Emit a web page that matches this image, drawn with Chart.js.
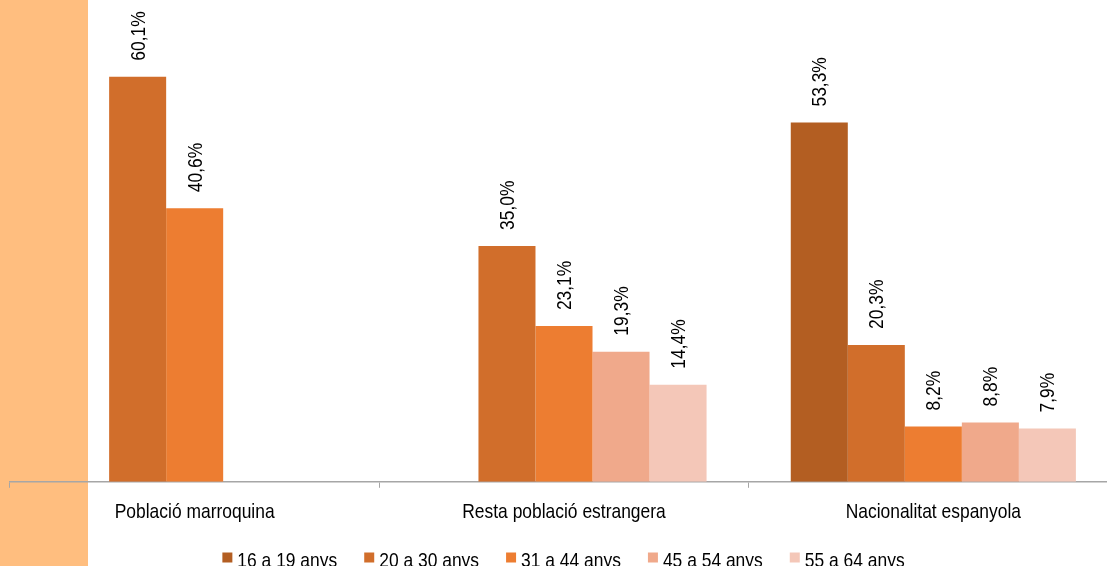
<!DOCTYPE html>
<html>
<head>
<meta charset="utf-8">
<script src="https://cdn.jsdelivr.net/npm/chart.js@4.4.1/dist/chart.umd.min.js"></script>
<style>
    html, body { margin: 0; padding: 0; overflow: hidden; background: #fff; }
    #wrap { position: relative; width: 1107px; height: 566px; overflow: hidden; }
    #band { position: absolute; left: 0; top: 0; width: 88px; height: 566px; background: #FFBE7F; }
    #holder { position: absolute; left: 0; top: 0; width: 1120px; height: 580px; }
</style>
</head>
<body>
<div id="wrap">
    <div id="band"></div>
    <div id="holder"><canvas id="chart"></canvas></div>
</div>
<script>
// Categorias y series
const categories = ['Població marroquina', 'Resta població estrangera', 'Nacionalitat espanyola'];
const seriesNames = ['16 a 19 anys', '20 a 30 anys', '31 a 44 anys', '45 a 54 anys', '55 a 64 anys'];
const age16to19 = [null, null, 53.3];
const age20to30 = [60.1, 35.0, 20.3];
const age31to44 = [40.6, 23.1, 8.2];
const age45to54 = [null, 19.3, 8.8];
const age55to64 = [null, 14.4, 7.9];
const seriesColors = ['#B35E22', '#D16E2B', '#ED7D31', '#F0A98B', '#F4C7B8'];

const FONT = "'Liberation Sans', Arial, sans-serif";
// No hay Arial Narrow: se estrecha el texto a mano
const NARROW = 0.83;

function narrowText(ctx, text, x, y, align) {
    ctx.save();
    ctx.translate(x, y);
    ctx.scale(NARROW, 1);
    ctx.textAlign = align;
    ctx.textBaseline = 'alphabetic';
    ctx.fillText(text, 0, 0);
    ctx.restore();
}

// Etiquetas rotadas encima de cada barra, nombres de categoria y leyenda
const textLayer = {
    id: 'textLayer',
    afterDraw(chart) {
        const ctx = chart.ctx;
        ctx.save();
        ctx.font = `21px ${FONT}`;
        ctx.fillStyle = '#000';

        chart.data.datasets.forEach((ds, i) => {
            const meta = chart.getDatasetMeta(i);
            meta.data.forEach((bar, j) => {
                const v = ds.data[j];
                if (v === null || v === undefined) return;
                ctx.save();
                ctx.translate(bar.x, bar.y - 16);
                ctx.rotate(-Math.PI / 2);
                narrowText(ctx, v.toFixed(1).replace('.', ',') + '%', 0, 7, 'left');
                ctx.restore();
            });
        });

        const xScale = chart.scales.x;
        categories.forEach((c, i) => {
            narrowText(ctx, c, xScale.getPixelForTick(i), xScale.top + 36, 'center');
        });

        const legend = chart.legend;
        legend.legendHitBoxes.forEach((hb, i) => {
            const cy = hb.top + hb.height / 2;
            narrowText(ctx, seriesNames[i], hb.left + 15, cy + 9, 'left');
        });
        ctx.restore();
    }
};

const allSeries = [age16to19, age20to30, age31to44, age45to54, age55to64];

new Chart(document.getElementById('chart'), {
    type: 'bar',
    data: {
        labels: categories,
        datasets: allSeries.map((data, i) => ({
            label: seriesNames[i],
            data: data,
            backgroundColor: seriesColors[i],
            categoryPercentage: 0.772,
            barPercentage: 1.0
        }))
    },
    options: {
        responsive: true,
        maintainAspectRatio: false,
        animation: false,
        layout: { padding: { left: 10, right: 2, top: 10, bottom: 4 } },
        scales: {
            x: {
                offset: true,
                grid: {
                    display: true,
                    drawOnChartArea: false,
                    drawTicks: true,
                    tickLength: 6,
                    tickColor: '#A6A6A6',
                    offset: true
                },
                border: { display: true, color: '#A6A6A6', width: 1.5 },
                ticks: {
                    color: 'rgba(0,0,0,0)',
                    padding: 5,
                    font: { family: FONT, size: 21 }
                }
            },
            y: {
                display: false,
                min: 0,
                max: 70
            }
        },
        plugins: {
            legend: {
                position: 'bottom',
                labels: {
                    boxWidth: 10,
                    boxHeight: 10,
                    padding: 26,
                    color: 'rgba(0,0,0,0)',
                    font: { family: FONT, size: 17 }
                }
            },
            tooltip: { enabled: false }
        }
    },
    plugins: [textLayer]
});
</script>
</body>
</html>
